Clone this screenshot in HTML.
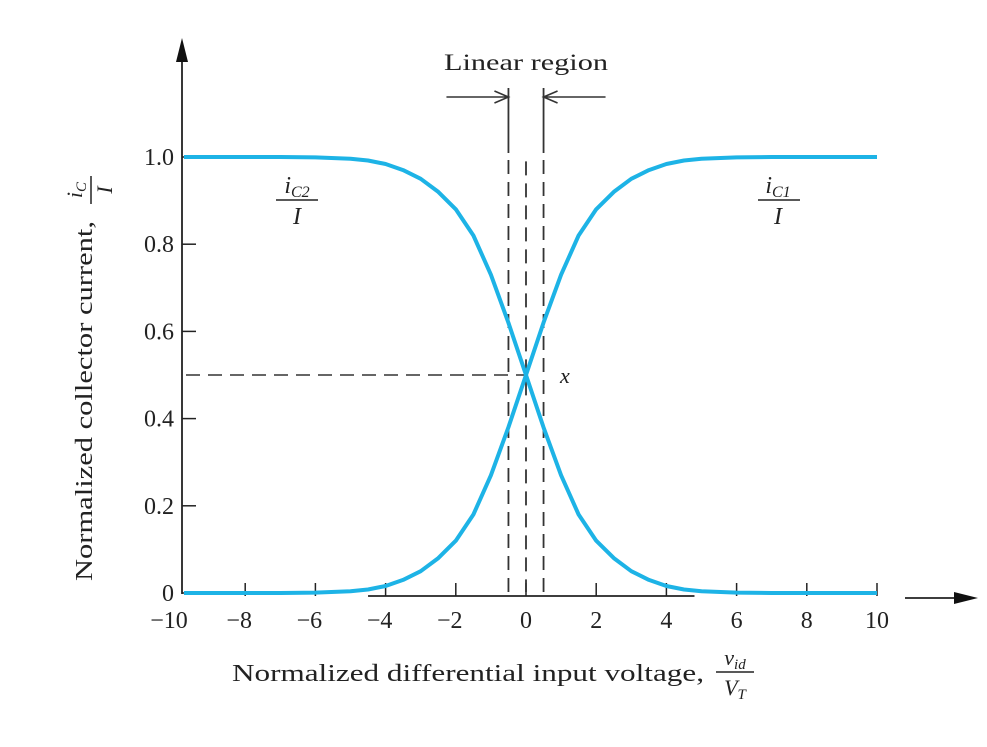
<!DOCTYPE html>
<html><head><meta charset="utf-8"><style>
html,body{margin:0;padding:0;background:#fff;}
svg text{font-family:"Liberation Serif",serif;fill:#222;}
</style></head><body>
<svg id="chart" width="987" height="742" xmlns="http://www.w3.org/2000/svg">
<g id="axes"></g>
<g id="marks"></g>
<text x="526" y="70" font-size="23" text-anchor="middle" textLength="164" lengthAdjust="spacingAndGlyphs">Linear region</text>
<text x="560" y="383" font-size="22" font-style="italic">x</text>
<g>
<text x="297" y="193" font-size="24" font-style="italic" text-anchor="middle">i<tspan font-size="16" dy="4">C2</tspan></text>
<line x1="276" y1="200" x2="318" y2="200" stroke="#222" stroke-width="1.5"/>
<text x="297" y="224" font-size="24" font-style="italic" text-anchor="middle">I</text>
</g>
<g>
<text x="778" y="193" font-size="24" font-style="italic" text-anchor="middle">i<tspan font-size="16" dy="4">C1</tspan></text>
<line x1="758" y1="200" x2="800" y2="200" stroke="#222" stroke-width="1.5"/>
<text x="778" y="224" font-size="24" font-style="italic" text-anchor="middle">I</text>
</g>
<g>
<text x="232" y="681" font-size="24" textLength="472" lengthAdjust="spacingAndGlyphs">Normalized differential input voltage,</text>
<text x="735" y="665" font-size="22" font-style="italic" text-anchor="middle">v<tspan font-size="15" dy="4">id</tspan></text>
<line x1="716" y1="672" x2="754" y2="672" stroke="#222" stroke-width="1.5"/>
<text x="735" y="695" font-size="22" font-style="italic" text-anchor="middle">V<tspan font-size="15" dy="4">T</tspan></text>
</g>
<g transform="translate(92,378) rotate(-90)">
<text x="-203" y="0" font-size="24" textLength="360" lengthAdjust="spacingAndGlyphs">Normalized collector current,</text>
<text x="188" y="-10" font-size="22" font-style="italic" text-anchor="middle">i<tspan font-size="15" dy="4">C</tspan></text>
<line x1="174" y1="-1" x2="202" y2="-1" stroke="#222" stroke-width="1.5"/>
<text x="188" y="20" font-size="22" font-style="italic" text-anchor="middle">I</text>
</g>
</svg>
<script>
const xTicks=[-10,-8,-6,-4,-2,0,2,4,6,8,10];
const xTickLabels=["−10","−8","−6","−4","−2","0","2","4","6","8","10"];
const yTicks=[0,0.2,0.4,0.6,0.8,1.0];
const yTickLabels=["0","0.2","0.4","0.6","0.8","1.0"];
const vid=[-10,-9,-8,-7,-6,-5,-4.5,-4,-3.5,-3,-2.5,-2,-1.5,-1,-0.5,0,0.5,1,1.5,2,2.5,3,3.5,4,4.5,5,6,7,8,9,10];
const ic1=[0,0,0,0,0.001,0.004,0.008,0.016,0.03,0.05,0.08,0.12,0.18,0.27,0.38,0.5,0.62,0.73,0.82,0.88,0.92,0.95,0.97,0.984,0.992,0.996,0.999,1,1,1,1];
const ic2=ic1.map(v=>1-v);
const linearBounds=[-0.5,0.5];
const X=v=>526+v*35.1, Y=v=>593-v*436;
const NS="http://www.w3.org/2000/svg";
const ax=document.getElementById('axes'), mk=document.getElementById('marks');
function el(tag,attrs,parent){const e=document.createElementNS(NS,tag);for(const k in attrs)e.setAttribute(k,attrs[k]);parent.appendChild(e);return e;}
let e;
e=el('line',{x1:182,y1:594,x2:182,y2:55,stroke:'#222','stroke-width':1.8},ax);

e=el('polygon',{points:'182,38 176,62 188,62',fill:'#111'},ax);

e=el('line',{x1:X(-4.5),y1:596,x2:X(4.8),y2:596,stroke:'#222','stroke-width':1.8},ax);

e=el('line',{x1:905,y1:598,x2:960,y2:598,stroke:'#222','stroke-width':1.8},ax);

e=el('polygon',{points:'978,598 954,592 954,604',fill:'#111'},ax);

xTicks.forEach((t,i)=>{
 if(i>0){e=el('line',{x1:X(t),y1:583,x2:X(t),y2:596,stroke:'#222','stroke-width':1.5},ax);
 }
 e=el('text',{x:X(t)-(t<0?6:0),y:628,'font-size':24,'text-anchor':'middle'},ax);e.textContent=xTickLabels[i];
 
});
yTicks.forEach((t,i)=>{
 e=el('line',{x1:182,y1:Y(t),x2:196,y2:Y(t),stroke:'#222','stroke-width':1.5},ax);
 
 e=el('text',{x:174,y:Y(t)+8,'font-size':24,'text-anchor':'end'},ax);e.textContent=yTickLabels[i];
 
});
e=el('line',{x1:186,y1:Y(0.5),x2:X(0),y2:Y(0.5),stroke:'#333','stroke-width':1.5,'stroke-dasharray':'14,8'},mk);

e=el('line',{x1:X(0),y1:Y(0.99),x2:X(0),y2:592,stroke:'#333','stroke-width':1.8,'stroke-dasharray':'14,8'},mk);

linearBounds.forEach((b,i)=>{
 e=el('line',{x1:X(b),y1:88,x2:X(b),y2:153,stroke:'#333','stroke-width':1.8},mk);
 
 e=el('line',{x1:X(b),y1:160,x2:X(b),y2:592,stroke:'#333','stroke-width':1.8,'stroke-dasharray':'14,8'},mk);
 
 const s=i===0?-1:1, xb=X(b);
 e=el('path',{d:`M${xb+s*62},97 L${xb},97 M${xb+s*14},91 L${xb},97 L${xb+s*14},103`,stroke:'#333','stroke-width':1.6,fill:'none'},mk);
 
});
function line(vals,name){
 const d=vid.map((v,i)=>(i?'L':'M')+Math.max(X(v),184).toFixed(1)+','+Y(vals[i]).toFixed(1)).join(' ');
 const p=el('path',{d:d,stroke:'#1db3e6','stroke-width':4,fill:'none','stroke-linejoin':'round'},mk);
 
 
}
line(ic1,'ic1-curve');
line(ic2,'ic2-curve');
</script>
</body></html>
